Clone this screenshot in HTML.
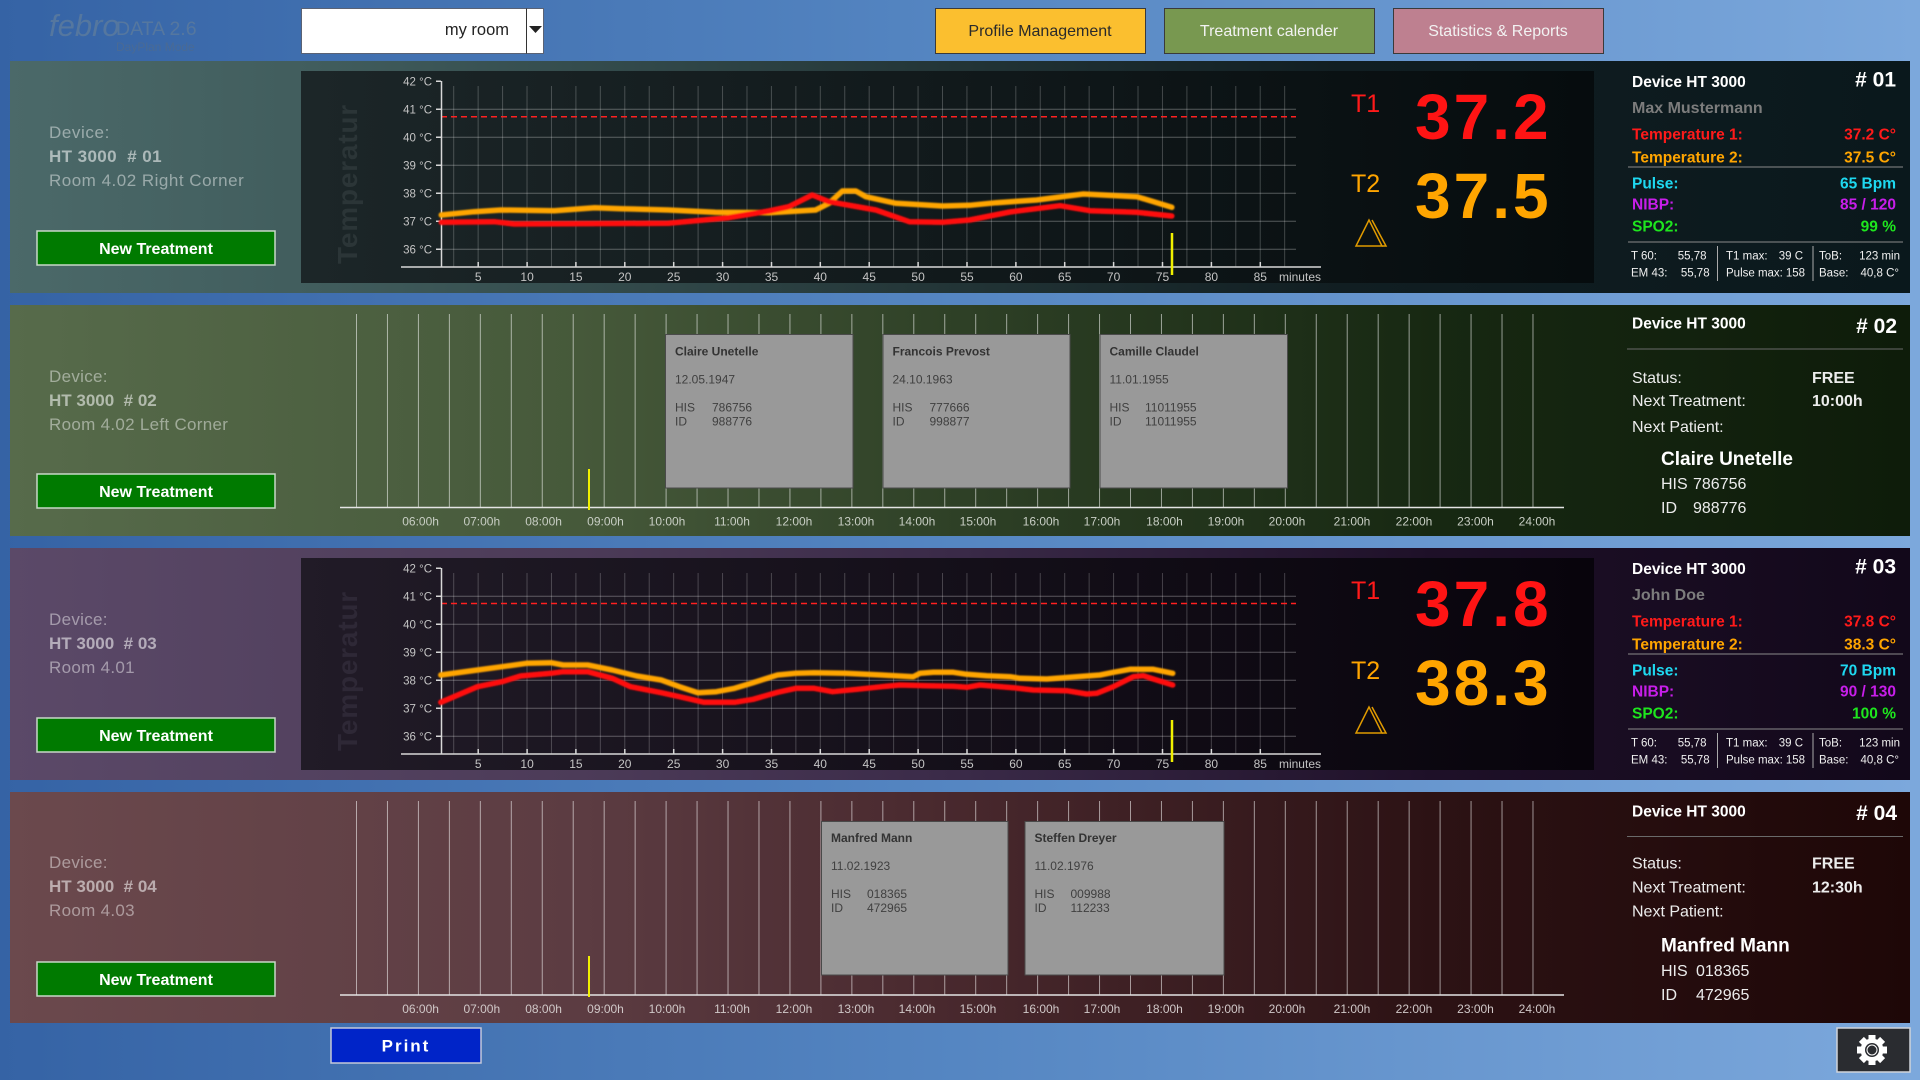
<!DOCTYPE html>
<html><head><meta charset="utf-8"><style>
html,body{margin:0;padding:0;width:1920px;height:1080px;overflow:hidden;background:#4a78b8;}
svg{display:block;}
svg text{white-space:pre;font-family:"Liberation Sans",sans-serif;}
</style></head><body>
<svg width="1920" height="1080" viewBox="0 0 1920 1080" xmlns="http://www.w3.org/2000/svg">
<defs>
<linearGradient id="bg" x1="0" y1="0" x2="1" y2="0"><stop offset="0" stop-color="#3563a5"/><stop offset="0.5" stop-color="#5586c2"/><stop offset="1" stop-color="#7ca8dc"/></linearGradient>
<linearGradient id="p1" x1="0" y1="0" x2="1" y2="0"><stop offset="0" stop-color="#4b6969"/><stop offset="0.16" stop-color="#415d5d"/><stop offset="0.5" stop-color="#223436"/><stop offset="0.7" stop-color="#111e22"/><stop offset="1" stop-color="#0a181c"/></linearGradient>
<linearGradient id="p2" x1="0" y1="0" x2="1" y2="0"><stop offset="0" stop-color="#576b4b"/><stop offset="0.3" stop-color="#46593a"/><stop offset="0.5" stop-color="#2e4026"/><stop offset="0.75" stop-color="#172812"/><stop offset="1" stop-color="#0e1c0a"/></linearGradient>
<linearGradient id="p3" x1="0" y1="0" x2="1" y2="0"><stop offset="0" stop-color="#5b4968"/><stop offset="0.3" stop-color="#4c3b58"/><stop offset="0.5" stop-color="#3a2a48"/><stop offset="0.75" stop-color="#1e1028"/><stop offset="1" stop-color="#12081a"/></linearGradient>
<linearGradient id="p4" x1="0" y1="0" x2="1" y2="0"><stop offset="0" stop-color="#6b494d"/><stop offset="0.3" stop-color="#5c3c42"/><stop offset="0.5" stop-color="#48282d"/><stop offset="0.75" stop-color="#2c1214"/><stop offset="1" stop-color="#1e0707"/></linearGradient>
<linearGradient id="c1" x1="0" y1="0" x2="1" y2="0"><stop offset="0" stop-color="#1c2628"/><stop offset="1" stop-color="#060c0e"/></linearGradient>
<linearGradient id="c3" x1="0" y1="0" x2="1" y2="0"><stop offset="0" stop-color="#211b27"/><stop offset="1" stop-color="#08040c"/></linearGradient>
<filter id="glow" x="-5%" y="-50%" width="110%" height="200%"><feGaussianBlur stdDeviation="0.8"/></filter>
</defs>

<!-- background -->
<rect x="0" y="0" width="1920" height="1080" fill="url(#bg)"/>

<!-- top bar -->
<text x="49" y="36" font-family="Liberation Serif" font-style="italic" font-size="31" fill="#55779f">febro</text>
<text x="116" y="35" font-size="19.5" fill="#55779f">DATA 2.6</text>
<text x="116" y="51" font-size="12" fill="#4a6a94">DayPlan Mode</text>

<rect x="301.5" y="8.5" width="242" height="45" fill="#ffffff" stroke="#5a6274" stroke-width="1"/>
<line x1="526.5" y1="8.5" x2="526.5" y2="53.5" stroke="#333" stroke-width="1"/>
<polygon points="529,26 542,26 535.5,33" fill="#222"/>
<text x="509" y="35" font-size="16.5" fill="#222" text-anchor="end">my room</text>

<rect x="935.5" y="8.5" width="210" height="45" fill="#fbbf2f" stroke="#3a3a3a" stroke-width="1"/>
<text x="1040" y="36" font-size="16" fill="#2a2a2a" text-anchor="middle">Profile Management</text>
<rect x="1164.5" y="8.5" width="210" height="45" fill="#789850" stroke="#3a3a3a" stroke-width="1"/>
<text x="1269" y="36" font-size="16" fill="#f2f2f2" text-anchor="middle">Treatment calender</text>
<rect x="1393.5" y="8.5" width="210" height="45" fill="#be8090" stroke="#3a3a3a" stroke-width="1"/>
<text x="1498" y="36" font-size="16" fill="#f2f2f2" text-anchor="middle">Statistics &amp; Reports</text>

<!-- panels -->
<rect x="10" y="61" width="1900" height="232" fill="url(#p1)"/>
<rect x="10" y="305" width="1900" height="231" fill="url(#p2)"/>
<rect x="10" y="548" width="1900" height="232" fill="url(#p3)"/>
<rect x="10" y="792" width="1900" height="231" fill="url(#p4)"/>

<!-- left device texts -->
<g fill="#ffffff">
<text x="49" y="138" font-size="17" fill-opacity="0.45" letter-spacing="0.6">Device:</text>
<text x="49" y="162" font-size="17" font-weight="bold" fill-opacity="0.55" letter-spacing="0.4">HT 3000  # 01</text>
<text x="49" y="186" font-size="17" fill-opacity="0.45" letter-spacing="0.5">Room 4.02 Right Corner</text>

<text x="49" y="382" font-size="17" fill-opacity="0.45" letter-spacing="0.3">Device:</text>
<text x="49" y="406" font-size="17" font-weight="bold" fill-opacity="0.55">HT 3000  # 02</text>
<text x="49" y="430" font-size="17" fill-opacity="0.45" letter-spacing="0.3">Room 4.02 Left Corner</text>

<text x="49" y="625" font-size="17" fill-opacity="0.45" letter-spacing="0.3">Device:</text>
<text x="49" y="649" font-size="17" font-weight="bold" fill-opacity="0.55">HT 3000  # 03</text>
<text x="49" y="673" font-size="17" fill-opacity="0.45" letter-spacing="0.3">Room 4.01</text>

<text x="49" y="868" font-size="17" fill-opacity="0.45" letter-spacing="0.3">Device:</text>
<text x="49" y="892" font-size="17" font-weight="bold" fill-opacity="0.55">HT 3000  # 04</text>
<text x="49" y="916" font-size="17" fill-opacity="0.45" letter-spacing="0.3">Room 4.03</text>
</g>

<!-- New Treatment buttons -->
<g>
<rect x="37" y="231" width="238" height="34" fill="#007a00" stroke="#c8d8c8" stroke-width="1.5"/>
<text x="156" y="254" font-size="16" font-weight="bold" fill="#fff" text-anchor="middle">New Treatment</text>
<rect x="37" y="474" width="238" height="34" fill="#007a00" stroke="#c8d8c8" stroke-width="1.5"/>
<text x="156" y="497" font-size="16" font-weight="bold" fill="#fff" text-anchor="middle">New Treatment</text>
<rect x="37" y="718" width="238" height="34" fill="#007a00" stroke="#c8d8c8" stroke-width="1.5"/>
<text x="156" y="741" font-size="16" font-weight="bold" fill="#fff" text-anchor="middle">New Treatment</text>
<rect x="37" y="962" width="238" height="34" fill="#007a00" stroke="#c8d8c8" stroke-width="1.5"/>
<text x="156" y="985" font-size="16" font-weight="bold" fill="#fff" text-anchor="middle">New Treatment</text>
</g>

<!-- ============ CHART PANEL 1 ============ -->
<rect x="301" y="71" width="1293" height="212" fill="url(#c1)"/>
<text transform="translate(357,184) rotate(-90)" text-anchor="middle" font-size="28" font-weight="bold" letter-spacing="0.8" fill="#2b3537">Temperatur</text>
<path d="M453.7 86v181m24.44-181v181m24.44-181v181m24.44-181v181m24.44-181v181m24.44-181v181m24.44-181v181m24.44-181v181m24.44-181v181m24.44-181v181m24.44-181v181m24.44-181v181m24.44-181v181m24.44-181v181m24.44-181v181m24.44-181v181m24.44-181v181m24.44-181v181m24.44-181v181m24.44-181v181m24.44-181v181m24.44-181v181m24.44-181v181m24.44-181v181m24.44-181v181m24.44-181v181m24.44-181v181m24.44-181v181m24.44-181v181m24.44-181v181m24.44-181v181m24.44-181v181m24.44-181v181m24.44-181v181m24.44-181v181" stroke="#ffffff" stroke-opacity="0.22" stroke-width="1" fill="none"/>
<path d="M441 109.3H1296M441 137.3H1296M441 165.3H1296M441 193.3H1296M441 221.3H1296M441 249.3H1296" stroke="#ffffff" stroke-opacity="0.3" stroke-width="1" fill="none"/>
<line x1="441" y1="116.7" x2="1296" y2="116.7" stroke="#ff2020" stroke-width="1.5" stroke-dasharray="6 4"/>
<path d="M441.5 81V267M401 267H1321M436 81.3H441M436 109.3H441M436 137.3H441M436 165.3H441M436 193.3H441M436 221.3H441M436 249.3H441M478.2 262v5M527.1 262v5M575.9 262v5M624.8 262v5M673.7 262v5M722.6 262v5M771.5 262v5M820.3 262v5M869.2 262v5M918.1 262v5M967 262v5M1015.9 262v5M1064.7 262v5M1113.6 262v5M1162.5 262v5M1211.4 262v5M1260.3 262v5" stroke="#d8d8d8" stroke-width="1.5" fill="none"/>
<g font-size="11.5" fill="#c4c4c4" text-anchor="end">
<text x="432" y="85.3">42 °C</text><text x="432" y="113.3">41 °C</text><text x="432" y="141.3">40 °C</text><text x="432" y="169.3">39 °C</text><text x="432" y="197.3">38 °C</text><text x="432" y="225.3">37 °C</text><text x="432" y="253.3">36 °C</text>
</g>
<g font-size="12" fill="#c4c4c4" text-anchor="middle">
<text x="478.2" y="281">5</text><text x="527.1" y="281">10</text><text x="575.9" y="281">15</text><text x="624.8" y="281">20</text><text x="673.7" y="281">25</text><text x="722.6" y="281">30</text><text x="771.5" y="281">35</text><text x="820.3" y="281">40</text><text x="869.2" y="281">45</text><text x="918.1" y="281">50</text><text x="967" y="281">55</text><text x="1015.9" y="281">60</text><text x="1064.7" y="281">65</text><text x="1113.6" y="281">70</text><text x="1162.5" y="281">75</text><text x="1211.4" y="281">80</text><text x="1260.3" y="281">85</text>
<text x="1321" y="281" text-anchor="end">minutes</text>
</g>
<g fill="none" stroke-linejoin="round" stroke-linecap="round" filter="url(#glow)">
<polyline stroke="#ffa500" stroke-width="5.5" points="441.3,215 474.1,211.7 500.9,210 554.4,210.7 594.6,207.7 621.4,208.7 668.3,210 715.2,212.3 768.7,212.7 815.6,210 829,203.3 842.4,191 855.8,191 865.8,196.7 895.9,203.3 942.8,206 969.6,205.3 996.4,202.7 1036.6,200 1083.4,194 1137,196.7 1171.8,207.3"/>
<polyline stroke="#ff0a0a" stroke-width="5.5" points="441.3,222.3 494.2,221.7 514.3,224 668.3,223.3 728.5,217.7 768.7,211 788.8,206.7 812.2,195 829,201.7 875.9,210 909.3,221.7 942.8,222.3 969.6,220 1009.8,212 1060,205.7 1090.1,210.7 1137,212.3 1171.8,216"/>
</g>
<line x1="1172" y1="233" x2="1172" y2="275" stroke="#f0f000" stroke-width="2.5"/>

<text x="1351" y="112" font-size="25" fill="#ff1a1a">T1</text>
<text x="1415" y="139" font-size="64" font-weight="bold" letter-spacing="3" fill="#ff1414">37.2</text>
<text x="1351" y="192" font-size="25" fill="#ffa500">T2</text>
<text x="1415" y="218" font-size="64" font-weight="bold" letter-spacing="3" fill="#ffa500">37.5</text>
<polygon points="1369,220 1356,246 1382,246" fill="none" stroke="#e09a00" stroke-width="1.5"/>
<polyline points="1372,220 1386,246 1382,246" fill="none" stroke="#e09a00" stroke-width="1.5"/>

<!-- info panel 1 -->
<text x="1632" y="87" font-size="15.5" font-weight="bold" fill="#fff">Device HT 3000</text>
<text x="1896" y="86.5" font-size="21" font-weight="bold" fill="#fff" text-anchor="end"># 01</text>
<text x="1632" y="113" font-size="16" font-weight="bold" fill="#7c7c7c">Max Mustermann</text>
<text x="1632" y="139.5" font-size="15.5" font-weight="bold" fill="#ff1a1a">Temperature 1:</text>
<text x="1896" y="139.5" font-size="15.5" font-weight="bold" fill="#ff1a1a" text-anchor="end">37.2 C°</text>
<text x="1632" y="162.5" font-size="15.5" font-weight="bold" fill="#ffa500">Temperature 2:</text>
<text x="1896" y="162.5" font-size="15.5" font-weight="bold" fill="#ffa500" text-anchor="end">37.5 C°</text>
<line x1="1628" y1="167" x2="1903" y2="167" stroke="#8a8a8a" stroke-width="1"/>
<text x="1632" y="188.5" font-size="15.5" font-weight="bold" fill="#1ed8f0">Pulse:</text>
<text x="1896" y="188.5" font-size="15.5" font-weight="bold" fill="#1ed8f0" text-anchor="end">65 Bpm</text>
<text x="1632" y="209.5" font-size="15.5" font-weight="bold" fill="#c81eea">NIBP:</text>
<text x="1896" y="209.5" font-size="15.5" font-weight="bold" fill="#c81eea" text-anchor="end">85 / 120</text>
<text x="1632" y="231.5" font-size="15.5" font-weight="bold" fill="#1ee61e">SPO2:</text>
<text x="1896" y="231.5" font-size="15.5" font-weight="bold" fill="#1ee61e" text-anchor="end">99 %</text>
<line x1="1628" y1="242" x2="1903" y2="242" stroke="#8a8a8a" stroke-width="1"/>
<path d="M1717.5 246V281M1813 246V281" stroke="#aaaaaa" stroke-width="1"/>
<g font-size="11.5" fill="#f0f0f0">
<text x="1631" y="259.5">T 60:</text><text x="1706.5" y="259.5" text-anchor="end">55,78</text>
<text x="1726" y="259.5">T1 max:</text><text x="1803" y="259.5" text-anchor="end">39 C</text>
<text x="1819" y="259.5">ToB:</text><text x="1900" y="259.5" text-anchor="end">123 min</text>
<text x="1631" y="276.5">EM 43:</text><text x="1709.6" y="276.5" text-anchor="end">55,78</text>
<text x="1726" y="276.5">Pulse max:</text><text x="1805" y="276.5" text-anchor="end">158</text>
<text x="1819" y="276.5">Base:</text><text x="1899" y="276.5" text-anchor="end">40,8 C°</text>
</g>

<!-- ============ CHART PANEL 3 ============ -->
<rect x="301" y="558" width="1293" height="212" fill="url(#c3)"/>
<text transform="translate(357,671) rotate(-90)" text-anchor="middle" font-size="28" font-weight="bold" letter-spacing="0.8" fill="#2e2836">Temperatur</text>
<path d="M453.7 573v181m24.44-181v181m24.44-181v181m24.44-181v181m24.44-181v181m24.44-181v181m24.44-181v181m24.44-181v181m24.44-181v181m24.44-181v181m24.44-181v181m24.44-181v181m24.44-181v181m24.44-181v181m24.44-181v181m24.44-181v181m24.44-181v181m24.44-181v181m24.44-181v181m24.44-181v181m24.44-181v181m24.44-181v181m24.44-181v181m24.44-181v181m24.44-181v181m24.44-181v181m24.44-181v181m24.44-181v181m24.44-181v181m24.44-181v181m24.44-181v181m24.44-181v181m24.44-181v181m24.44-181v181m24.44-181v181" stroke="#ffffff" stroke-opacity="0.22" stroke-width="1" fill="none"/>
<path d="M441 596.3H1296M441 624.3H1296M441 652.3H1296M441 680.3H1296M441 708.3H1296M441 736.3H1296" stroke="#ffffff" stroke-opacity="0.3" stroke-width="1" fill="none"/>
<line x1="441" y1="603.5" x2="1296" y2="603.5" stroke="#ff2020" stroke-width="1.5" stroke-dasharray="6 4"/>
<path d="M441.5 568V754M401 754H1321M436 568.3H441M436 596.3H441M436 624.3H441M436 652.3H441M436 680.3H441M436 708.3H441M436 736.3H441M478.2 749v5M527.1 749v5M575.9 749v5M624.8 749v5M673.7 749v5M722.6 749v5M771.5 749v5M820.3 749v5M869.2 749v5M918.1 749v5M967 749v5M1015.9 749v5M1064.7 749v5M1113.6 749v5M1162.5 749v5M1211.4 749v5M1260.3 749v5" stroke="#d8d8d8" stroke-width="1.5" fill="none"/>
<g font-size="11.5" fill="#c4c4c4" text-anchor="end">
<text x="432" y="572.3">42 °C</text><text x="432" y="600.3">41 °C</text><text x="432" y="628.3">40 °C</text><text x="432" y="656.3">39 °C</text><text x="432" y="684.3">38 °C</text><text x="432" y="712.3">37 °C</text><text x="432" y="740.3">36 °C</text>
</g>
<g font-size="12" fill="#c4c4c4" text-anchor="middle">
<text x="478.2" y="768">5</text><text x="527.1" y="768">10</text><text x="575.9" y="768">15</text><text x="624.8" y="768">20</text><text x="673.7" y="768">25</text><text x="722.6" y="768">30</text><text x="771.5" y="768">35</text><text x="820.3" y="768">40</text><text x="869.2" y="768">45</text><text x="918.1" y="768">50</text><text x="967" y="768">55</text><text x="1015.9" y="768">60</text><text x="1064.7" y="768">65</text><text x="1113.6" y="768">70</text><text x="1162.5" y="768">75</text><text x="1211.4" y="768">80</text><text x="1260.3" y="768">85</text>
<text x="1321" y="768" text-anchor="end">minutes</text>
</g>
<g fill="none" stroke-linejoin="round" stroke-linecap="round" filter="url(#glow)">
<polyline stroke="#ffa500" stroke-width="5.5" points="440.8,675 477.5,670 502,666.7 526.5,663.3 551,662.7 563.2,665 587.7,665 612.2,670 636.7,676 661.2,680 679.5,686.7 697.9,692.7 716.3,691.7 734.6,688.3 753,682.7 777.5,675 795.9,673.3 814.2,672.7 844.8,673.3 881.6,675 913.3,676.7 920,673.3 933.3,672.3 953.3,672.3 966.7,674.3 986.7,675.7 1010,676.7 1020,678.3 1046.7,679 1073.3,677 1100,675 1113.3,672.3 1130,669.3 1153.3,669.3 1172.7,673.3"/>
<polyline stroke="#ff0a0a" stroke-width="5.5" points="440.8,702.3 477.5,686.7 502,681.7 520.4,676 551,673.3 563.2,671.7 587.7,671.7 612.2,678.3 630.6,686.7 661.2,692.7 679.5,696.7 704,702.3 734.6,702.3 753,699.3 777.5,692.3 795.9,688.3 814.2,688.3 832.6,691.7 857,689.3 881.6,686.7 900,685 926.7,685.7 953.3,686.3 966.7,687.3 980,685 1013.3,687.7 1033.3,690 1066.7,690.7 1086.7,694 1096.7,693.3 1113.3,686.7 1133.3,676.7 1143.3,675.7 1153.3,679 1172.7,685"/>
</g>
<line x1="1172" y1="720" x2="1172" y2="762" stroke="#f0f000" stroke-width="2.5"/>

<text x="1351" y="599" font-size="25" fill="#ff1a1a">T1</text>
<text x="1415" y="626" font-size="64" font-weight="bold" letter-spacing="3" fill="#ff1414">37.8</text>
<text x="1351" y="679" font-size="25" fill="#ffa500">T2</text>
<text x="1415" y="705" font-size="64" font-weight="bold" letter-spacing="3" fill="#ffa500">38.3</text>
<polygon points="1369,707 1356,733 1382,733" fill="none" stroke="#e09a00" stroke-width="1.5"/>
<polyline points="1372,707 1386,733 1382,733" fill="none" stroke="#e09a00" stroke-width="1.5"/>

<!-- info panel 3 -->
<text x="1632" y="574" font-size="15.5" font-weight="bold" fill="#fff">Device HT 3000</text>
<text x="1896" y="573.5" font-size="21" font-weight="bold" fill="#fff" text-anchor="end"># 03</text>
<text x="1632" y="600" font-size="16" font-weight="bold" fill="#7c7c7c">John Doe</text>
<text x="1632" y="626.5" font-size="15.5" font-weight="bold" fill="#ff1a1a">Temperature 1:</text>
<text x="1896" y="626.5" font-size="15.5" font-weight="bold" fill="#ff1a1a" text-anchor="end">37.8 C°</text>
<text x="1632" y="649.5" font-size="15.5" font-weight="bold" fill="#ffa500">Temperature 2:</text>
<text x="1896" y="649.5" font-size="15.5" font-weight="bold" fill="#ffa500" text-anchor="end">38.3 C°</text>
<line x1="1628" y1="654" x2="1903" y2="654" stroke="#8a8a8a" stroke-width="1"/>
<text x="1632" y="675.5" font-size="15.5" font-weight="bold" fill="#1ed8f0">Pulse:</text>
<text x="1896" y="675.5" font-size="15.5" font-weight="bold" fill="#1ed8f0" text-anchor="end">70 Bpm</text>
<text x="1632" y="696.5" font-size="15.5" font-weight="bold" fill="#c81eea">NIBP:</text>
<text x="1896" y="696.5" font-size="15.5" font-weight="bold" fill="#c81eea" text-anchor="end">90 / 130</text>
<text x="1632" y="718.5" font-size="15.5" font-weight="bold" fill="#1ee61e">SPO2:</text>
<text x="1896" y="718.5" font-size="15.5" font-weight="bold" fill="#1ee61e" text-anchor="end">100 %</text>
<line x1="1628" y1="729" x2="1903" y2="729" stroke="#8a8a8a" stroke-width="1"/>
<path d="M1717.5 733V768M1813 733V768" stroke="#aaaaaa" stroke-width="1"/>
<g font-size="11.5" fill="#f0f0f0">
<text x="1631" y="746.5">T 60:</text><text x="1706.5" y="746.5" text-anchor="end">55,78</text>
<text x="1726" y="746.5">T1 max:</text><text x="1803" y="746.5" text-anchor="end">39 C</text>
<text x="1819" y="746.5">ToB:</text><text x="1900" y="746.5" text-anchor="end">123 min</text>
<text x="1631" y="763.5">EM 43:</text><text x="1709.6" y="763.5" text-anchor="end">55,78</text>
<text x="1726" y="763.5">Pulse max:</text><text x="1805" y="763.5" text-anchor="end">158</text>
<text x="1819" y="763.5">Base:</text><text x="1899" y="763.5" text-anchor="end">40,8 C°</text>
</g>

<!-- ============ TIMELINE PANEL 2 ============ -->
<path d="M356.5 314v193m30.96-193v193m30.96-193v193m30.96-193v193m30.96-193v193m30.96-193v193m30.96-193v193m30.96-193v193m30.96-193v193m30.96-193v193m30.96-193v193m30.96-193v193m30.96-193v193m30.96-193v193m30.96-193v193m30.96-193v193m30.96-193v193m30.96-193v193m30.96-193v193m30.96-193v193m30.96-193v193m30.96-193v193m30.96-193v193m30.96-193v193m30.96-193v193m30.96-193v193m30.96-193v193m30.96-193v193m30.96-193v193m30.96-193v193m30.96-193v193m30.96-193v193m30.96-193v193m30.96-193v193m30.96-193v193m30.96-193v193m30.96-193v193m30.96-193v193m30.96-193v193" stroke="#ffffff" stroke-opacity="0.55" stroke-width="1" fill="none"/>
<line x1="340" y1="507.5" x2="1564" y2="507.5" stroke="#e4e4e4" stroke-width="1.5"/>
<g font-size="12" fill="#c8cec4" text-anchor="middle">
<text x="420.6" y="525.5">06:00h</text><text x="481.8" y="525.5">07:00h</text><text x="543.6" y="525.5">08:00h</text><text x="605.5" y="525.5">09:00h</text><text x="667" y="525.5">10:00h</text><text x="732" y="525.5">11:00h</text><text x="794" y="525.5">12:00h</text><text x="856" y="525.5">13:00h</text><text x="917" y="525.5">14:00h</text><text x="978" y="525.5">15:00h</text><text x="1041" y="525.5">16:00h</text><text x="1102" y="525.5">17:00h</text><text x="1164.5" y="525.5">18:00h</text><text x="1226" y="525.5">19:00h</text><text x="1287" y="525.5">20:00h</text><text x="1352" y="525.5">21:00h</text><text x="1414" y="525.5">22:00h</text><text x="1475.5" y="525.5">23:00h</text><text x="1537" y="525.5">24:00h</text>
</g>
<line x1="589" y1="469" x2="589" y2="510" stroke="#f0f000" stroke-width="2"/>
<g stroke="#4a4a4a" stroke-width="1" fill="#999999">
<rect x="665.5" y="334.5" width="187.5" height="153.5"/>
<rect x="883" y="334.5" width="187" height="153.5"/>
<rect x="1100" y="334.5" width="187.5" height="153.5"/>
</g>
<g font-size="12" fill="#404040">
<text x="675" y="355.5" font-weight="bold" fill="#333">Claire Unetelle</text>
<text x="675" y="383.5">12.05.1947</text>
<text x="675" y="411.5">HIS</text><text x="712" y="411.5">786756</text>
<text x="675" y="425.5">ID</text><text x="712" y="425.5">988776</text>
<text x="892.5" y="355.5" font-weight="bold" fill="#333">Francois Prevost</text>
<text x="892.5" y="383.5">24.10.1963</text>
<text x="892.5" y="411.5">HIS</text><text x="929.5" y="411.5">777666</text>
<text x="892.5" y="425.5">ID</text><text x="929.5" y="425.5">998877</text>
<text x="1109.5" y="355.5" font-weight="bold" fill="#333">Camille Claudel</text>
<text x="1109.5" y="383.5">11.01.1955</text>
<text x="1109.5" y="411.5">HIS</text><text x="1145" y="411.5">11011955</text>
<text x="1109.5" y="425.5">ID</text><text x="1145" y="425.5">11011955</text>
</g>

<!-- info panel 2 -->
<text x="1632" y="328.5" font-size="15.5" font-weight="bold" fill="#fff">Device HT 3000</text>
<text x="1897" y="333" font-size="21" font-weight="bold" fill="#fff" text-anchor="end"># 02</text>
<line x1="1627" y1="349" x2="1903" y2="349" stroke="#6a6a6a" stroke-width="1"/>
<g font-size="16" fill="#ececec">
<text x="1632" y="383">Status:</text><text x="1812" y="383" font-weight="bold">FREE</text>
<text x="1632" y="406">Next Treatment:</text><text x="1812" y="406" font-weight="bold">10:00h</text>
<text x="1632" y="432">Next Patient:</text>
<text x="1661" y="465" font-size="19" font-weight="bold" fill="#fff">Claire Unetelle</text>
<text x="1661" y="489">HIS</text><text x="1693" y="489">786756</text>
<text x="1661" y="513">ID</text><text x="1693" y="513">988776</text>
</g>

<!-- ============ TIMELINE PANEL 4 ============ -->
<path d="M356.5 801v194m30.96-194v194m30.96-194v194m30.96-194v194m30.96-194v194m30.96-194v194m30.96-194v194m30.96-194v194m30.96-194v194m30.96-194v194m30.96-194v194m30.96-194v194m30.96-194v194m30.96-194v194m30.96-194v194m30.96-194v194m30.96-194v194m30.96-194v194m30.96-194v194m30.96-194v194m30.96-194v194m30.96-194v194m30.96-194v194m30.96-194v194m30.96-194v194m30.96-194v194m30.96-194v194m30.96-194v194m30.96-194v194m30.96-194v194m30.96-194v194m30.96-194v194m30.96-194v194m30.96-194v194m30.96-194v194m30.96-194v194m30.96-194v194m30.96-194v194m30.96-194v194" stroke="#ffffff" stroke-opacity="0.55" stroke-width="1" fill="none"/>
<line x1="340" y1="995" x2="1564" y2="995" stroke="#e4e4e4" stroke-width="1.5"/>
<g font-size="12" fill="#d0c8c8" text-anchor="middle">
<text x="420.6" y="1013">06:00h</text><text x="481.8" y="1013">07:00h</text><text x="543.6" y="1013">08:00h</text><text x="605.5" y="1013">09:00h</text><text x="667" y="1013">10:00h</text><text x="732" y="1013">11:00h</text><text x="794" y="1013">12:00h</text><text x="856" y="1013">13:00h</text><text x="917" y="1013">14:00h</text><text x="978" y="1013">15:00h</text><text x="1041" y="1013">16:00h</text><text x="1102" y="1013">17:00h</text><text x="1164.5" y="1013">18:00h</text><text x="1226" y="1013">19:00h</text><text x="1287" y="1013">20:00h</text><text x="1352" y="1013">21:00h</text><text x="1414" y="1013">22:00h</text><text x="1475.5" y="1013">23:00h</text><text x="1537" y="1013">24:00h</text>
</g>
<line x1="589" y1="956" x2="589" y2="997" stroke="#f0f000" stroke-width="2"/>
<g stroke="#4a4a4a" stroke-width="1" fill="#999999">
<rect x="821.5" y="821.5" width="186.5" height="153.5"/>
<rect x="1025" y="821.5" width="199" height="153.5"/>
</g>
<g font-size="12" fill="#404040">
<text x="831" y="842" font-weight="bold" fill="#333">Manfred Mann</text>
<text x="831" y="870">11.02.1923</text>
<text x="831" y="898">HIS</text><text x="867" y="898">018365</text>
<text x="831" y="912">ID</text><text x="867" y="912">472965</text>
<text x="1034.5" y="842" font-weight="bold" fill="#333">Steffen Dreyer</text>
<text x="1034.5" y="870">11.02.1976</text>
<text x="1034.5" y="898">HIS</text><text x="1070.5" y="898">009988</text>
<text x="1034.5" y="912">ID</text><text x="1070.5" y="912">112233</text>
</g>

<!-- info panel 4 -->
<text x="1632" y="816.5" font-size="15.5" font-weight="bold" fill="#fff">Device HT 3000</text>
<text x="1897" y="820" font-size="21" font-weight="bold" fill="#fff" text-anchor="end"># 04</text>
<line x1="1627" y1="836.5" x2="1903" y2="836.5" stroke="#6a6a6a" stroke-width="1"/>
<g font-size="16" fill="#ececec">
<text x="1632" y="868.5">Status:</text><text x="1812" y="868.5" font-weight="bold">FREE</text>
<text x="1632" y="892.5">Next Treatment:</text><text x="1812" y="892.5" font-weight="bold">12:30h</text>
<text x="1632" y="916.5">Next Patient:</text>
<text x="1661" y="951.5" font-size="19" font-weight="bold" fill="#fff">Manfred Mann</text>
<text x="1661" y="976">HIS</text><text x="1696" y="976">018365</text>
<text x="1661" y="1000">ID</text><text x="1696" y="1000">472965</text>
</g>

<!-- Print button -->
<rect x="331" y="1028" width="150" height="35" fill="#0024c8" stroke="#c4c8d8" stroke-width="1.5"/>
<text x="406" y="1051.5" font-size="17" font-weight="bold" letter-spacing="2" fill="#fff" text-anchor="middle">Print</text>

<!-- Settings gear -->
<rect x="1837" y="1028" width="73" height="44" fill="#2a2c30" stroke="#d0d4da" stroke-width="1.5"/>
<g transform="translate(1872,1050)" fill="#ffffff">
<rect x="-3.5" y="-15" width="7" height="30"/>
<rect x="-3.5" y="-15" width="7" height="30" transform="rotate(45)"/>
<rect x="-3.5" y="-15" width="7" height="30" transform="rotate(90)"/>
<rect x="-3.5" y="-15" width="7" height="30" transform="rotate(135)"/>
<circle r="11.5"/>
<circle r="7" fill="#2a2c30"/>
<circle r="5" fill="none" stroke="#ffffff" stroke-width="1"/>
</g>
</svg>
</body></html>
